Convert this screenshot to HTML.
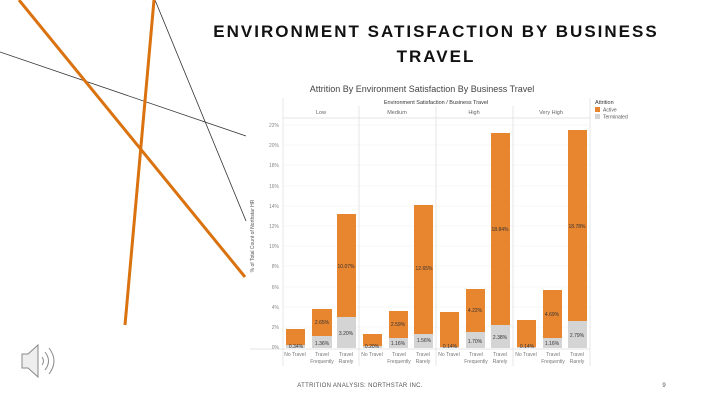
<!DOCTYPE html>
<html><head><meta charset="utf-8"><style>
html,body{margin:0;padding:0;background:#fff}
svg{display:block}
text{font-family:"Liberation Sans",sans-serif}
</style></head><body>
<svg width="720" height="404" viewBox="0 0 720 404" xmlns="http://www.w3.org/2000/svg">
<rect width="720" height="404" fill="#fff"/>
<!-- decorative lines -->
<line x1="0" y1="52" x2="246" y2="136" stroke="#333" stroke-width="0.8"/>
<line x1="155" y1="0" x2="246" y2="221" stroke="#333" stroke-width="0.8"/>
<line x1="19" y1="0" x2="245" y2="277" stroke="#d9720f" stroke-width="3"/>
<line x1="154" y1="0" x2="125" y2="325" stroke="#d9720f" stroke-width="3"/>
<!-- title -->
<g font-weight="bold" font-size="17" fill="#111" text-anchor="middle" letter-spacing="2">
<text x="436" y="37">ENVIRONMENT SATISFACTION BY BUSINESS</text>
<text x="436" y="62">TRAVEL</text>
</g>
<!-- chart title -->
<text x="422" y="92" font-size="9" fill="#444" text-anchor="middle">Attrition By Environment Satisfaction By Business Travel</text>
<text x="436" y="104" font-size="5.5" fill="#333" text-anchor="middle">Environment Satisfaction / Business Travel</text>
<g font-size="5.5" fill="#666" text-anchor="middle">
<text x="321" y="114">Low</text><text x="397" y="114">Medium</text><text x="474" y="114">High</text><text x="551" y="114">Very High</text>
</g>
<!-- grid -->
<g stroke="#f0f0f0" stroke-width="0.6">
<line x1="283" y1="125" x2="590" y2="125"/><line x1="283" y1="145" x2="590" y2="145"/>
<line x1="283" y1="165" x2="590" y2="165"/><line x1="283" y1="186" x2="590" y2="186"/>
<line x1="283" y1="206" x2="590" y2="206"/><line x1="283" y1="226" x2="590" y2="226"/>
<line x1="283" y1="246" x2="590" y2="246"/><line x1="283" y1="266" x2="590" y2="266"/>
<line x1="283" y1="287" x2="590" y2="287"/><line x1="283" y1="307" x2="590" y2="307"/>
<line x1="283" y1="327" x2="590" y2="327"/>
</g>
<g stroke="#ddd" stroke-width="0.7">
<line x1="283" y1="98" x2="283" y2="366"/><line x1="359" y1="106" x2="359" y2="366"/>
<line x1="436" y1="106" x2="436" y2="366"/><line x1="513" y1="106" x2="513" y2="366"/>
<line x1="590" y1="98" x2="590" y2="366"/>
<line x1="283" y1="118" x2="590" y2="118"/>
<line x1="250" y1="349" x2="590" y2="349"/>
</g>
<g font-size="5" fill="#888" text-anchor="end">
<text x="279" y="127">22%</text><text x="279" y="147">20%</text><text x="279" y="167">18%</text>
<text x="279" y="188">16%</text><text x="279" y="208">14%</text><text x="279" y="228">12%</text>
<text x="279" y="248">10%</text><text x="279" y="268">8%</text><text x="279" y="289">6%</text>
<text x="279" y="309">4%</text><text x="279" y="329">2%</text><text x="279" y="349">0%</text>
</g>
<text transform="translate(254,236) rotate(-90)" font-size="5" fill="#555" text-anchor="middle">% of Total Count of Northstar HR</text>
<!-- bars -->
<g fill="#e8852f">
<rect x="286" y="329" width="19" height="19"/><rect x="312" y="309" width="20" height="39"/><rect x="337" y="214" width="19" height="134"/>
<rect x="363" y="334" width="19" height="14"/><rect x="389" y="311" width="19" height="37"/><rect x="414" y="205" width="19" height="143"/>
<rect x="440" y="312" width="19" height="36"/><rect x="466" y="289" width="19" height="59"/><rect x="491" y="133" width="19" height="215"/>
<rect x="517" y="320" width="19" height="28"/><rect x="543" y="290" width="19" height="58"/><rect x="568" y="130" width="19" height="218"/>
</g>
<g fill="#d4d4d4">
<rect x="286" y="345" width="19" height="3"/><rect x="312" y="336" width="20" height="12"/><rect x="337" y="317" width="19" height="31"/>
<rect x="363" y="346" width="19" height="2"/><rect x="389" y="338" width="19" height="10"/><rect x="414" y="334" width="19" height="14"/>
<rect x="440" y="347" width="19" height="1"/><rect x="466" y="332" width="19" height="16"/><rect x="491" y="325" width="19" height="23"/>
<rect x="517" y="347" width="19" height="1"/><rect x="543" y="338" width="19" height="10"/><rect x="568" y="321" width="19" height="27"/>
</g>
<g font-size="5" fill="#333" text-anchor="middle">
<text x="296" y="348">0.34%</text><text x="322" y="324">2.65%</text><text x="346" y="268">10.07%</text>
<text x="322" y="345">1.36%</text><text x="346" y="335">3.20%</text>
<text x="372" y="348">0.20%</text><text x="398" y="326">2.59%</text><text x="424" y="270">12.65%</text>
<text x="398" y="345">1.16%</text><text x="424" y="342">1.56%</text>
<text x="450" y="348">0.14%</text><text x="475" y="312">4.22%</text><text x="500" y="231">18.84%</text>
<text x="475" y="343">1.70%</text><text x="500" y="339">2.38%</text>
<text x="527" y="348">0.14%</text><text x="552" y="316">4.69%</text><text x="577" y="228">18.78%</text>
<text x="552" y="345">1.16%</text><text x="577" y="337">2.79%</text>
</g>
<g font-size="5" fill="#777" text-anchor="middle">
<text x="295" y="356">No Travel</text><text x="322" y="356">Travel</text><text x="322" y="363">Frequently</text><text x="346" y="356">Travel</text><text x="346" y="363">Rarely</text>
<text x="372" y="356">No Travel</text><text x="399" y="356">Travel</text><text x="399" y="363">Frequently</text><text x="423" y="356">Travel</text><text x="423" y="363">Rarely</text>
<text x="449" y="356">No Travel</text><text x="476" y="356">Travel</text><text x="476" y="363">Frequently</text><text x="500" y="356">Travel</text><text x="500" y="363">Rarely</text>
<text x="526" y="356">No Travel</text><text x="553" y="356">Travel</text><text x="553" y="363">Frequently</text><text x="577" y="356">Travel</text><text x="577" y="363">Rarely</text>
</g>
<!-- legend -->
<text x="595" y="104" font-size="5.5" fill="#333">Attrition</text>
<rect x="595" y="107" width="5" height="5" fill="#e8852f"/><text x="603" y="111.5" font-size="5" fill="#555">Active</text>
<rect x="595" y="114" width="5" height="5" fill="#d4d4d4"/><text x="603" y="118.5" font-size="5" fill="#555">Terminated</text>
<!-- speaker -->
<g fill="none" stroke="#888" stroke-width="1">
<path d="M22 354 h6 l10 -9 v32 l-10 -9 h-6 z" fill="#eee"/>
<path d="M42 357 q3 4 0 8"/><path d="M45 352 q7 9 0 18"/><path d="M49 348 q10 13 0 26"/>
</g>
<text x="360" y="387" font-size="6" fill="#555" text-anchor="middle" letter-spacing="0.3">ATTRITION ANALYSIS: NORTHSTAR INC.</text>
<text x="664" y="387" font-size="6" fill="#555" text-anchor="middle">9</text>
</svg>
</body></html>
